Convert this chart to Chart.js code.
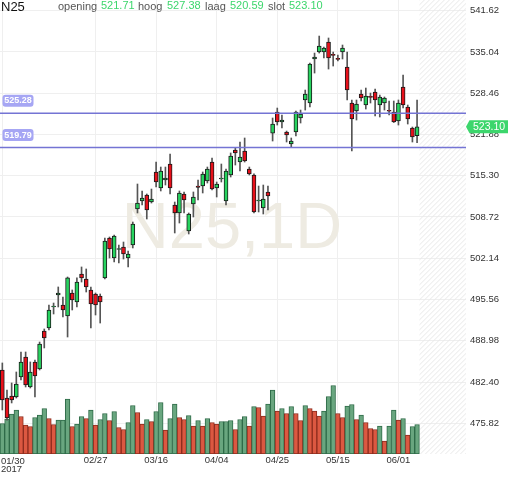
<!DOCTYPE html>
<html>
<head>
<meta charset="utf-8">
<script src="https://cdn.jsdelivr.net/npm/chart.js@4.4.1/dist/chart.umd.min.js"></script>
<style>
  html, body { margin: 0; padding: 0; background: #fff; }
  #marco { position: relative; width: 512px; height: 477px; overflow: hidden; font-family: "Liberation Sans", Arial, sans-serif; }
  #grafico { position: absolute; left: 0; top: 0; }
  .cab { position: absolute; line-height: 1; white-space: nowrap; }
  .et { font-size: 11px; color: #555; top: 1px; }
  .val { font-size: 11px; color: #3cd66c; top: 0px; }
</style>
</head>
<body>
<div id="marco">
  <canvas id="grafico" width="512" height="477"></canvas>
  <div class="cab" style="left:1px;top:0px;font-size:13px;color:#111">N25</div>
  <div class="cab et" style="left:58px">opening</div>
  <div class="cab val" id="vApertura" style="left:101px"></div>
  <div class="cab et" style="left:138px">hoog</div>
  <div class="cab val" id="vMaximo" style="left:167px"></div>
  <div class="cab et" style="left:205px">laag</div>
  <div class="cab val" id="vMinimo" style="left:230px"></div>
  <div class="cab et" style="left:268px">slot</div>
  <div class="cab val" id="vCierre" style="left:289px"></div>
</div>
<script>
// dias de negociacion (Euronext, 2017)
const fechas = ['01/30','01/31','02/01','02/02','02/03','02/06','02/07','02/08','02/09','02/10',
  '02/13','02/14','02/15','02/16','02/17','02/20','02/21','02/22','02/23','02/24',
  '02/27','02/28','03/01','03/02','03/03','03/06','03/07','03/08','03/09','03/10',
  '03/13','03/14','03/15','03/16','03/17','03/20','03/21','03/22','03/23','03/24',
  '03/27','03/28','03/29','03/30','03/31','04/03','04/04','04/05','04/06','04/07',
  '04/10','04/11','04/12','04/13','04/18','04/19','04/20','04/21','04/24','04/25',
  '04/26','04/27','04/28','05/02','05/03','05/04','05/05','05/08','05/09','05/10',
  '05/11','05/12','05/15','05/16','05/17','05/18','05/19','05/22','05/23','05/24',
  '05/25','05/26','05/29','05/30','05/31','06/01','06/02','06/05','06/06','06/07'];
const fechasEje = ['01/30','02/27','03/16','04/04','04/25','05/15','06/01'];
const huecosFuturos = 10;

const apertura = [484.32,479.85,480.17,480.01,483.20,486.39,481.61,485.60,484.48,490.54,
  491.02,494.37,496.28,494.68,492.93,496.60,495.16,499.63,498.83,497.08,
  496.44,496.12,499.00,505.37,502.18,503.54,503.93,502.18,504.25,509.99,
  511.27,512.23,511.11,515.90,513.34,514.62,517.17,510.63,509.36,512.39,
  506.49,510.79,513.66,513.66,514.46,517.49,513.34,514.78,511.27,515.42,
  519.40,517.49,519.24,516.38,515.42,511.27,510.15,512.71,522.11,525.46,
  523.87,522.27,520.36,522.27,524.51,527.38,526.90,533.92,535.03,535.03,
  536.63,534.55,533.92,535.03,532.64,526.90,525.62,528.33,526.58,527.86,
  528.65,526.58,526.90,525.62,525.46,524.03,529.45,526.26,522.91,521.71];
const maximo = [485.44,481.13,482.25,484.00,487.19,487.19,485.60,485.91,488.78,490.86,
  494.68,495.00,497.56,495.96,499.15,497.08,499.00,500.75,500.43,497.56,
  496.60,496.44,505.37,505.53,505.85,504.25,504.73,503.30,507.92,513.98,
  512.87,512.39,513.18,517.49,516.69,516.69,518.77,511.11,512.87,512.71,
  509.36,512.71,514.62,515.90,516.69,518.13,514.30,517.17,516.38,518.93,
  519.72,520.68,521.32,516.69,515.60,513.66,513.82,513.66,524.51,526.10,
  524.99,522.43,521.32,525.62,525.78,528.97,533.28,534.87,537.58,535.83,
  537.27,535.03,534.55,536.15,535.03,527.38,527.38,528.97,529.29,528.49,
  529.13,528.17,527.86,527.22,527.22,527.38,531.37,526.58,523.07,527.38];
const minimo = [477.94,476.30,479.06,479.85,482.72,481.61,481.45,480.01,484.32,487.83,
  490.70,493.25,494.37,492.77,489.58,493.89,494.37,498.35,496.76,491.02,
  493.09,491.81,498.83,502.18,501.54,501.38,502.02,500.75,503.78,509.36,
  510.63,508.40,510.95,513.50,512.87,513.82,512.39,506.17,507.76,509.36,
  506.01,508.72,511.43,512.55,514.14,513.02,511.91,514.30,510.63,515.10,
  517.01,516.06,517.49,515.42,509.36,509.52,509.20,509.83,520.84,523.39,
  522.91,520.68,519.88,521.64,523.71,525.78,526.26,531.68,534.87,534.08,
  532.32,532.80,533.60,533.92,527.38,519.24,524.19,527.22,525.94,526.90,
  524.83,524.67,525.78,524.99,523.79,523.39,526.10,523.55,520.68,520.59];
const cierre = [479.53,476.66,479.53,482.08,485.60,481.93,484.00,483.36,488.46,489.42,
  493.89,494.53,496.60,493.89,499.00,495.48,498.35,499.00,497.56,494.84,
  494.68,495.16,504.89,503.62,505.69,503.62,502.82,502.82,507.60,510.95,
  511.75,509.83,511.59,514.30,516.06,514.94,513.34,509.36,512.55,511.43,
  509.20,511.91,513.42,515.58,516.38,513.18,513.98,514.86,516.06,518.45,
  518.93,518.29,517.65,515.58,509.52,511.35,511.59,512.07,523.55,523.87,
  524.19,521.80,520.84,525.46,525.15,528.33,533.12,534.24,535.99,535.67,
  534.08,534.50,533.87,535.67,528.97,524.35,526.74,527.70,528.02,527.81,
  527.38,527.86,527.70,525.58,523.87,526.90,526.58,524.35,521.48,523.10];
// volumen (millones) y su sentido: u = sube, d = baja
const volumen = [61,70,80,88,75,58,55,73,78,91,
  71,59,68,68,110,55,60,75,71,88,
  58,69,81,67,85,53,49,63,97,83,
  60,69,65,85,103,48,71,100,73,69,
  77,56,67,56,71,63,60,65,65,67,
  49,69,75,56,95,93,76,100,128,86,
  91,81,95,81,67,97,91,86,76,86,
  115,137,81,73,96,99,69,78,63,51,
  49,56,26,56,88,68,71,38,55,59];
const volSentido = ('uuuuddduuu' + 'dduuuduudu' + 'duududduud' + 'duduuduudd' + 'udududduuu' +
  'duududduud' + 'ududdudddu' + 'uudduududd' + 'duduududuu').split('');

const nivelesY = [475.82, 482.40, 488.98, 495.56, 502.14, 508.72, 515.30, 521.88, 528.46, 535.04, 541.62];
const lineasHorizontales = [525.28, 519.79];
const yMin = 470.92, yMax = 543.33, volMax = 908;

const ultimo = cierre.length - 1;
document.getElementById('vApertura').textContent = apertura[ultimo].toFixed(2);
document.getElementById('vMaximo').textContent = maximo[ultimo].toFixed(2);
document.getElementById('vMinimo').textContent = minimo[ultimo].toFixed(2);
document.getElementById('vCierre').textContent = cierre[ultimo].toFixed(2);

Chart.defaults.font.family = '"Liberation Sans", Arial, sans-serif';

const etiquetas = fechas.concat(Array(huecosFuturos).fill(''));

const fondo = {
  id: 'fondo',
  beforeDatasetsDraw(chart) {
    const { ctx, chartArea: a, scales: { x } } = chart;
    const paso = x.getPixelForValue(1) - x.getPixelForValue(0);
    const inicio = x.getPixelForValue(fechas.length - 1) + paso / 2;
    const alto = a.bottom - a.top;
    ctx.save();
    ctx.beginPath();
    ctx.rect(inicio, a.top, a.right - inicio, alto);
    ctx.clip();
    ctx.strokeStyle = '#e8e8e8';
    ctx.lineWidth = 1;
    for (let k = inicio - alto; k < a.right; k += 5) {
      ctx.beginPath();
      ctx.moveTo(k, a.bottom);
      ctx.lineTo(k + alto, a.top);
      ctx.stroke();
    }
    ctx.restore();

    ctx.save();
    ctx.font = '65px "Liberation Sans", Arial, sans-serif';
    ctx.fillStyle = '#eeebe2';
    ctx.textAlign = 'center';
    ctx.textBaseline = 'alphabetic';
    ctx.fillText('N25,1D', 232, 248);
    ctx.restore();
  },
  afterDatasetsDraw(chart) {
    const { ctx, chartArea: a, scales: { y } } = chart;
    ctx.save();
    lineasHorizontales.forEach(v => {
      const py = y.getPixelForValue(v);
      ctx.strokeStyle = '#7474d4';
      ctx.lineWidth = 1.5;
      ctx.beginPath();
      ctx.moveTo(a.left, py);
      ctx.lineTo(a.right, py);
      ctx.stroke();

      ctx.fillStyle = '#a6a6f4';
      ctx.beginPath();
      ctx.roundRect(2.5, py - 18.5, 31, 12, 3);
      ctx.fill();
      ctx.fillStyle = '#fff';
      ctx.font = 'bold 9px "Liberation Sans", Arial, sans-serif';
      ctx.textAlign = 'center';
      ctx.textBaseline = 'middle';
      ctx.fillText(v.toFixed(2), 18, py - 12.3);
    });
    ctx.restore();
  },
  afterDraw(chart) {
    const { ctx, chartArea: a, scales: { y } } = chart;
    const py = y.getPixelForValue(cierre[ultimo]);
    ctx.save();
    ctx.fillStyle = '#3cd66c';
    ctx.beginPath();
    ctx.moveTo(a.right, py);
    ctx.lineTo(a.right + 3.5, py - 6.5);
    ctx.lineTo(508, py - 6.5);
    ctx.lineTo(508, py + 6.5);
    ctx.lineTo(a.right + 3.5, py + 6.5);
    ctx.closePath();
    ctx.fill();
    ctx.fillStyle = '#fff';
    ctx.font = '10.5px "Liberation Sans", Arial, sans-serif';
    ctx.textAlign = 'left';
    ctx.textBaseline = 'middle';
    ctx.fillText(cierre[ultimo].toFixed(2), 473, py + 0.5);

    // primera fecha con el año, alineada a la izquierda
    ctx.fillStyle = '#333';
    ctx.font = '9.5px "Liberation Sans", Arial, sans-serif';
    ctx.fillText(fechas[0], 1, 461);
    ctx.fillText('2017', 1, 469.5);
    ctx.restore();
  }
};

new Chart(document.getElementById('grafico'), {
  type: 'bar',
  data: {
    labels: etiquetas,
    datasets: [
      {
        label: 'cuerpos',
        data: apertura.map((o, i) => [o, cierre[i]]),
        yAxisID: 'y',
        grouped: false,
        order: 1,
        barThickness: 4,
        minBarLength: 1,
        backgroundColor: apertura.map((o, i) => cierre[i] >= o ? '#27d35f' : '#e8101a'),
        borderColor: '#1a1a1a',
        borderWidth: 1,
        borderSkipped: false
      },
      {
        label: 'mechas',
        data: minimo.map((l, i) => [l, maximo[i]]),
        yAxisID: 'y',
        grouped: false,
        order: 2,
        barThickness: 1,
        backgroundColor: '#555'
      },
      {
        label: 'volumen',
        data: volumen,
        yAxisID: 'yv',
        grouped: false,
        order: 3,
        barPercentage: 1,
        categoryPercentage: 1,
        backgroundColor: volSentido.map(s => s === 'u' ? '#69a67f' : '#dc5841'),
        borderColor: volSentido.map(s => s === 'u' ? '#2e6b48' : '#8c2c1e'),
        borderWidth: 1,
        borderSkipped: false
      }
    ]
  },
  options: {
    responsive: false,
    animation: false,
    events: [],
    layout: { padding: 0 },
    plugins: {
      legend: { display: false },
      tooltip: { enabled: false }
    },
    scales: {
      x: {
        offset: true,
        grid: { offset: false, color: '#efefef', drawTicks: false },
        border: { display: false },
        ticks: {
          autoSkip: false,
          maxRotation: 0,
          padding: 1,
          color: '#333',
          font: { size: 9.5 },
          callback: v => (v === 0 ? '' : etiquetas[v])
        },
        afterBuildTicks: s => {
          s.ticks = s.ticks.filter(t => fechasEje.includes(etiquetas[t.value]));
        },
        afterFit: s => {
          s.height = 23;
          s.paddingLeft = 0;
          s.paddingRight = 0;
        }
      },
      y: {
        position: 'right',
        min: yMin,
        max: yMax,
        grid: { color: '#efefef', drawTicks: false },
        border: { display: false },
        ticks: {
          padding: 4,
          color: '#333',
          font: { size: 9.5 },
          callback: v => v.toFixed(2)
        },
        afterBuildTicks: s => {
          s.ticks = nivelesY.map(v => ({ value: v }));
        },
        afterFit: s => {
          s.width = 46;
          s.paddingTop = 0;
          s.paddingBottom = 0;
        }
      },
      yv: {
        display: false,
        min: 0,
        max: volMax
      }
    }
  },
  plugins: [fondo]
});
</script>
</body>
</html>
